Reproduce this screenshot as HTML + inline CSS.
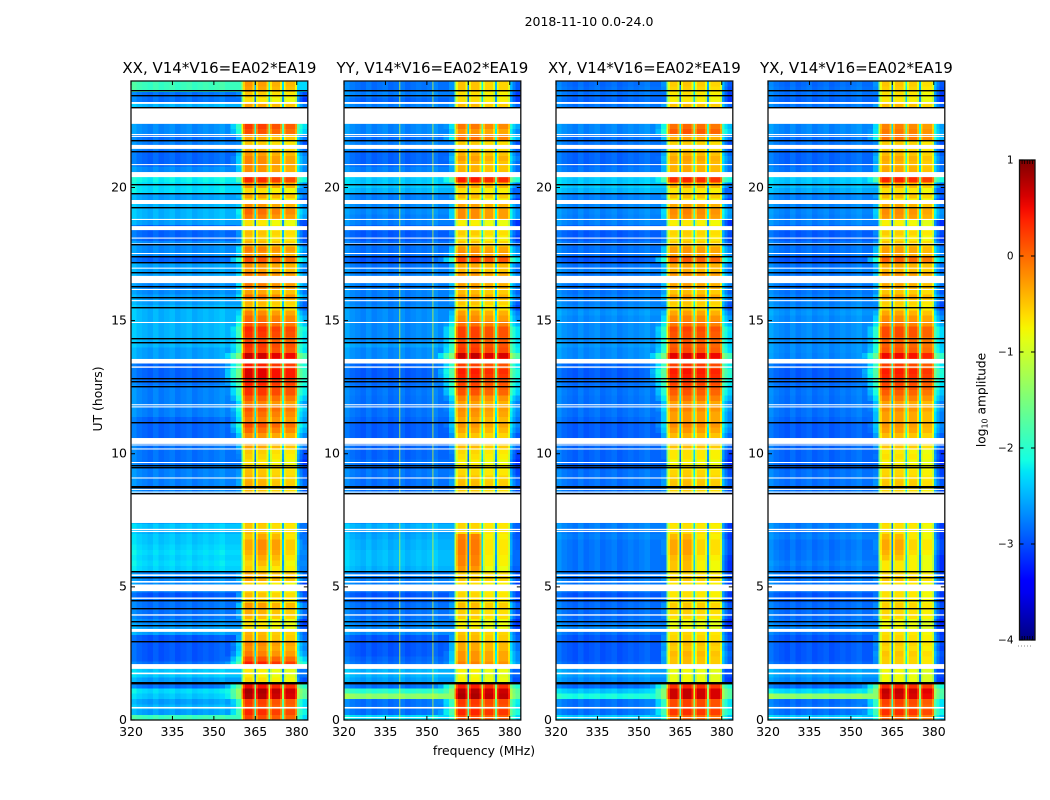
<!DOCTYPE html>
<html>
<head>
<meta charset="utf-8">
<title>2018-11-10 0.0-24.0</title>
<style>
html,body{margin:0;padding:0;background:#fff;width:1050px;height:800px;overflow:hidden}
svg{display:block}
text{font-family:"DejaVu Sans","Liberation Sans",sans-serif;fill:#000}
</style>
</head>
<body>
<svg id="figure" width="1050" height="800" viewBox="0 0 1050 800" xmlns="http://www.w3.org/2000/svg">
  <defs><linearGradient id="jetRamp" x1="0" y1="1" x2="0" y2="0"></linearGradient></defs>
  <rect x="0" y="0" width="1050" height="800" fill="#fff"/>
  <text x="589" y="26" font-size="12.5" text-anchor="middle">2018-11-10 0.0-24.0</text>
  <text x="484" y="755" font-size="12.4" text-anchor="middle">frequency (MHz)</text>
  <text x="102" y="399" font-size="12.4" text-anchor="middle" transform="rotate(-90 102 399)">UT (hours)</text>
  <text x="985.5" y="400" font-size="12.2" text-anchor="middle" transform="rotate(-90 985.5 400)">log<tspan font-size="8" dy="2">10</tspan><tspan dy="-2"> amplitude</tspan></text>
  <g id="panels"></g>
  <g id="colorbar"></g>
</svg>
<script>
// ---- data: axes ----
const panelNames = ["XX", "YY", "XY", "YX"];
const baselineLabel = "V14*V16=EA02*EA19";
const freqTicks = [320, 335, 350, 365, 380];
const hourTicks = [0, 5, 10, 15, 20];
const colorTicks = [1, 0, -1, -2, -3, -4];

// ---- data: time bins (one value per 0.2 h bin, UT 0 upward), log10 amplitude ----
const binHours = 0.2;
const bandXX = [
0.1,0.25,0.1,0.15,0.7,0.75,0.4,-0.7,-0.8,-0.8,
0.3,0.05,-0.2,-0.3,-0.25,-0.45,-0.5,-0.75,-0.75,-0.5,
-0.45,-0.35,-0.6,-0.55,-0.7,-0.7,-0.4,-0.45,-0.65,-0.7,
-0.6,-0.5,-0.45,-0.45,-0.6,-0.55,-0.6,-0.5,-0.5,-0.5,
-0.5,-0.5,-0.5,-0.55,-0.45,-0.5,-0.55,-0.6,-0.75,-0.65,
-0.6,-0.4,-0.4,-0.3,-0.1,0.05,-0.2,-0.1,0,-0.2,
0,0.2,0.2,0.3,0.5,0.5,0.3,0.5,0.6,0.15,
0.2,0.1,0.2,0.25,0,-0.1,-0.25,-0.55,-0.5,-0.15,
-0.4,-0.2,-0.2,-0.2,-0.35,-0.3,0.05,-0.3,-0.2,-0.5,
-0.6,-0.55,-0.7,-0.75,-0.2,-0.1,-0.3,-0.7,-0.4,-0.7,
-0.3,0.25,-0.2,-0.3,-0.25,-0.25,-0.35,-0.5,-0.6,-0.4,
0.05,0.15,0,0,0,-0.4,-0.75,-0.6,-0.4,-0.35];
const bandYY = [
0.1,0.3,0.15,0.2,0.75,0.7,0.35,-0.8,-0.85,-0.8,
-0.2,-0.3,-0.3,-0.4,-0.4,-0.5,-0.55,-0.8,-0.8,-0.6,
-0.6,-0.5,-0.65,-0.65,-0.7,-0.7,-0.55,-0.6,-0.8,-0.7,
-0.7,-0.65,-0.65,-0.65,-0.7,-0.65,-0.65,-0.6,-0.6,-0.6,
-0.6,-0.6,-0.6,-0.6,-0.5,-0.55,-0.65,-0.7,-0.8,-0.7,
-0.65,-0.5,-0.5,-0.55,-0.4,-0.3,-0.4,-0.3,-0.25,-0.35,
-0.2,0.05,0.1,0.15,0.3,0.35,0.15,0.5,0.65,0.2,
0.15,0.1,0.15,0.15,-0.1,-0.25,-0.35,-0.65,-0.55,-0.35,
-0.5,-0.35,-0.3,-0.3,-0.45,-0.4,0.15,-0.25,-0.3,-0.55,
-0.7,-0.6,-0.75,-0.8,-0.25,-0.25,-0.35,-0.75,-0.5,-0.7,
-0.4,0.35,-0.3,-0.45,-0.45,-0.35,-0.45,-0.6,-0.6,-0.1,
-0.3,-0.15,0,0,0,-0.5,-0.7,-0.7,-0.55,-0.55];
const bandXY = [
0,0.25,0.15,0.15,0.65,0.65,0.3,-0.85,-0.85,-0.85,
-0.5,-0.5,-0.45,-0.55,-0.5,-0.6,-0.65,-0.85,-0.85,-0.65,
-0.6,-0.55,-0.7,-0.7,-0.7,-0.7,-0.55,-0.65,-0.75,-0.75,
-0.7,-0.6,-0.6,-0.6,-0.7,-0.65,-0.7,-0.6,-0.6,-0.6,
-0.6,-0.6,-0.6,-0.6,-0.5,-0.55,-0.6,-0.7,-0.8,-0.7,
-0.7,-0.5,-0.5,-0.45,-0.3,-0.2,-0.3,-0.3,-0.2,-0.3,
-0.1,0.05,0.1,0.2,0.35,0.4,0.2,0.45,0.55,0.1,
0.05,0.05,0.1,0.15,-0.1,-0.2,-0.35,-0.6,-0.55,-0.3,
-0.5,-0.35,-0.3,-0.25,-0.4,-0.35,0.05,-0.3,-0.3,-0.55,
-0.65,-0.6,-0.7,-0.75,-0.25,-0.2,-0.35,-0.75,-0.5,-0.7,
-0.4,0.3,-0.3,-0.4,-0.4,-0.35,-0.45,-0.6,-0.6,-0.35,
0.05,-0.05,0,0,0,-0.5,-0.75,-0.7,-0.6,-0.55];
const bandYX = [
0,0.25,0.1,0.15,0.6,0.65,0.3,-0.85,-0.85,-0.85,
-0.6,-0.6,-0.55,-0.65,-0.6,-0.65,-0.7,-0.85,-0.85,-0.65,
-0.65,-0.6,-0.7,-0.7,-0.7,-0.7,-0.55,-0.65,-0.75,-0.75,
-0.75,-0.65,-0.6,-0.6,-0.7,-0.7,-0.7,-0.6,-0.6,-0.6,
-0.6,-0.6,-0.6,-0.65,-0.55,-0.6,-0.65,-0.7,-0.8,-0.7,
-0.75,-0.55,-0.55,-0.5,-0.35,-0.3,-0.35,-0.35,-0.25,-0.35,
-0.15,0,0.1,0.15,0.3,0.35,0.15,0.35,0.45,0.05,
0,0,0.1,0.1,-0.15,-0.25,-0.4,-0.65,-0.6,-0.35,
-0.55,-0.4,-0.35,-0.3,-0.45,-0.4,0,-0.35,-0.35,-0.55,
-0.7,-0.6,-0.75,-0.8,-0.3,-0.25,-0.4,-0.75,-0.5,-0.7,
-0.45,0.3,-0.3,-0.4,-0.45,-0.4,-0.5,-0.6,-0.6,-0.1,
-0.15,-0.2,0,0,0,-0.5,-0.75,-0.7,-0.6,-0.55];
const floorXX = [
-1.9,-2.6,-2.5,-2.6,-2.4,-2.3,-2.82,-2.6,-2.4,-2.4,
-2.82,-2.95,-2.95,-2.95,-2.95,-2.95,-2.6,-2.6,-2.7,-2.82,
-2.82,-2.82,-2.82,-2.95,-2.75,-2.7,-2.7,-2.7,-2.35,-2.3,
-2.35,-2.3,-2.35,-2.4,-2.4,-2.5,-2.4,-2.7,-2.7,-2.7,
-2.7,-2.7,-2.7,-2.75,-2.75,-2.75,-2.75,-2.75,-2.82,-2.82,
-2.82,-2.82,-2.82,-2.88,-2.88,-2.88,-2.88,-2.75,-2.75,-2.75,
-2.75,-2.75,-2.75,-2.82,-2.88,-2.88,-2.88,-2.6,-2.6,-2.6,
-2.5,-2.5,-2.5,-2.5,-2.5,-2.5,-2.5,-2.5,-2.6,-2.6,
-2.7,-2.7,-2.7,-2.6,-2.6,-2.6,-2.88,-2.7,-2.7,-2.7,
-2.88,-2.88,-2.88,-2.6,-2.5,-2.5,-2.5,-2.6,-2.6,-2.3,
-2.3,-2.2,-2.7,-2.7,-2.88,-2.88,-2.88,-2.75,-2.75,-2.82,
-2.7,-2.7,-2.7,-2.7,-2.7,-2.5,-2.82,-2.82,-1.9,-1.9];
const floorYY = [
-2.3,-2.82,-2.82,-2.82,-1.4,-2,-2.82,-2.6,-2.5,-2.5,
-2.82,-2.88,-2.95,-2.95,-2.95,-2.95,-2.7,-2.7,-2.75,-2.82,
-2.82,-2.82,-2.88,-2.95,-2.82,-2.75,-2.75,-2.75,-2.5,-2.45,
-2.45,-2.45,-2.5,-2.5,-2.55,-2.6,-2.5,-2.75,-2.75,-2.75,
-2.75,-2.75,-2.75,-2.82,-2.82,-2.82,-2.8,-2.82,-2.82,-2.88,
-2.88,-2.88,-2.88,-2.92,-2.92,-2.92,-2.88,-2.82,-2.82,-2.82,
-2.82,-2.8,-2.82,-2.85,-2.92,-2.92,-2.88,-2.7,-2.7,-2.7,
-2.6,-2.7,-2.7,-2.7,-2.7,-2.7,-2.7,-2.7,-2.75,-2.75,
-2.75,-2.75,-2.75,-2.75,-2.75,-2.82,-2.95,-2.82,-2.82,-2.82,
-2.92,-2.92,-2.88,-2.75,-2.75,-2.7,-2.7,-2.75,-2.75,-2.5,
-2.4,-2.4,-2.75,-2.75,-2.88,-2.88,-2.88,-2.75,-2.75,-2.82,
-2.72,-2.72,-2.7,-2.7,-2.7,-2.75,-2.88,-2.75,-2.82,-2.82];
const floorXY = [
-2.4,-2.82,-2.82,-2.82,-2.1,-2.4,-2.85,-2.7,-2.6,-2.6,
-2.88,-2.95,-2.95,-2.95,-2.95,-2.95,-2.82,-2.7,-2.8,-2.85,
-2.85,-2.85,-2.88,-2.95,-2.82,-2.8,-2.8,-2.8,-2.8,-2.8,
-2.8,-2.8,-2.8,-2.8,-2.75,-2.8,-2.75,-2.82,-2.82,-2.82,
-2.82,-2.82,-2.82,-2.82,-2.82,-2.82,-2.82,-2.88,-2.88,-2.88,
-2.88,-2.88,-2.88,-2.92,-2.92,-2.92,-2.88,-2.82,-2.82,-2.82,
-2.82,-2.8,-2.82,-2.85,-2.92,-2.92,-2.88,-2.7,-2.7,-2.7,
-2.65,-2.7,-2.7,-2.7,-2.7,-2.7,-2.65,-2.7,-2.75,-2.75,
-2.8,-2.8,-2.75,-2.8,-2.75,-2.82,-2.95,-2.82,-2.82,-2.82,
-2.92,-2.92,-2.88,-2.75,-2.75,-2.72,-2.72,-2.75,-2.75,-2.5,
-2.4,-2.4,-2.8,-2.8,-2.88,-2.88,-2.88,-2.8,-2.8,-2.82,
-2.72,-2.72,-2.7,-2.7,-2.7,-2.8,-2.88,-2.82,-2.82,-2.85];
const floorYX = [
-2.4,-2.82,-2.82,-2.85,-1.4,-2.3,-2.85,-2.7,-2.6,-2.6,
-2.88,-2.95,-2.95,-2.95,-2.95,-2.95,-2.82,-2.72,-2.8,-2.85,
-2.85,-2.85,-2.88,-2.95,-2.82,-2.8,-2.8,-2.8,-2.8,-2.75,
-2.8,-2.8,-2.82,-2.82,-2.75,-2.8,-2.75,-2.82,-2.82,-2.82,
-2.82,-2.82,-2.82,-2.82,-2.82,-2.82,-2.82,-2.88,-2.88,-2.88,
-2.88,-2.88,-2.88,-2.92,-2.92,-2.92,-2.88,-2.82,-2.82,-2.82,
-2.82,-2.8,-2.82,-2.85,-2.92,-2.92,-2.88,-2.72,-2.72,-2.7,
-2.7,-2.7,-2.7,-2.7,-2.7,-2.7,-2.65,-2.7,-2.75,-2.75,
-2.8,-2.8,-2.75,-2.8,-2.75,-2.82,-2.95,-2.82,-2.82,-2.82,
-2.92,-2.92,-2.88,-2.75,-2.75,-2.72,-2.72,-2.75,-2.75,-2.55,
-2.45,-2.4,-2.8,-2.8,-2.88,-2.88,-2.88,-2.8,-2.8,-2.82,
-2.72,-2.72,-2.7,-2.7,-2.7,-2.8,-2.88,-2.82,-2.82,-2.85];

// ---- data: frequency channels (MHz left edge, kind, gain in dex) ----
const channelStarts = [320,322,324,326,328,330,332,334,336,338,340,342,344,346,348,350,352,354,356,358,360,360.5,361.2,364,364.7,365.3,366,369,369.7,370.3,371,374,374.7,375.3,376,379.3,380,381,382,384];
const channelKinds = ["floor","floor","floor","floor","floor","floor","floor","floor","floor","floor","floor","floor","floor","floor","floor","floor","floor","knee","knee","knee","edge","sb0","sb0","sb0","gap","sb1","sb1","sb1","gap","sb2","sb2","sb2","gap","sb3","sb3","sb3","tail","tail","tail"];
const channelGains = [0.15,0.05,0,-0.05,0.05,-0.05,0,0.05,-0.05,0,0.05,-0.05,0,0.05,0,0.05,0.1,-2.9,-2.5,-2.1,-0.9,-0.3,0.02,-0.3,-2.1,-0.3,0.02,-0.3,-1.6,-0.3,0.02,-0.3,-1.9,-0.3,0.02,-0.3,-1.9,-2.2,-2.4];
const subbandTiltXX = [0.1, 0.05, -0.05, -0.1];
const subbandTiltYY = [0.05, 0.05, -0.05, -0.05];
const subbandTiltXY = [0, 0.05, 0, -0.05];
const subbandTiltYX = [0.05, 0.05, 0, -0.1];

// ---- data: localized bright patches [panel, hourFrom, hourTo, mhzFrom, mhzTo, dex] ----
const patchPanels = [1, 0, 2, 3];
const patchHourFrom = [5.6, 5.8, 5.7, 6];
const patchHourTo = [7, 6.9, 7, 7];
const patchMhzFrom = [360, 365, 360, 360];
const patchMhzTo = [370, 375, 370, 370];
const patchDex = [0.5, 0.2, 0.25, 0.2];

// ---- data: flagged time ranges (hours) ----
const gapFrom = [0.43,1.72,1.92,3.31,3.92,4.55,4.84,5.16,5.41,7.06,7.13,7.4,8.54,8.64,9.07,9.65,10.16,10.31,10.37,11.74,11.82,13.23,13.39,14.91,15.73,16.15,16.41,16.95,17.5,17.86,18.08,18.4,18.78,19.38,20.39,20.84,21.45,21.9,21.97,22.39,23.14];
const gapTo = [0.49,1.78,2.1,3.42,3.97,4.6,5.09,5.22,5.47,7.1,7.18,8.49,8.58,8.68,9.11,9.69,10.2,10.35,10.59,11.78,11.86,13.28,13.56,14.95,15.77,16.19,16.68,16.99,17.54,17.9,18.12,18.55,18.82,19.53,20.58,20.88,21.6,21.94,22.01,23.02,23.21];
const blackLineHours = [1.4,1.44,2.96,3.57,3.73,4.22,4.51,5.37,5.61,8.51,8.76,8.8,9.51,9.58,11.18,12.53,12.72,12.85,14.19,14.35,15.52,15.89,16.3,16.81,17.21,17.44,17.86,19.25,19.8,20.15,21.37,21.78,23.04,23.49,23.66];
const bottomLineHour = [0.07, 0.11];

// ---- data: narrow interference channels in YY (MHz) ----
const spurFreqsYY = [340, 352];

// ---- layout (not data) ----
const NS = "http://www.w3.org/2000/svg";
const panelLeft = [131, 344, 556, 768];
const panelWidth = 176.8;
const plotTop = 81, plotBottom = 720;
const freqMin = 320, freqMax = 384, hourMin = 0, hourMax = 24;
const cbarLeft = 1019.5, cbarRight = 1035, cbarTop = 160, cbarBottom = 640, colorMin = -4, colorMax = 1;

const bandByPanel = [bandXX, bandYY, bandXY, bandYX];
const floorByPanel = [floorXX, floorYY, floorXY, floorYX];
const tiltByPanel = [subbandTiltXX, subbandTiltYY, subbandTiltXY, subbandTiltYX];

function xScale(p, f) { return panelLeft[p] + (f - freqMin) / (freqMax - freqMin) * panelWidth; }
function yScale(h) { return plotBottom - (h - hourMin) / (hourMax - hourMin) * (plotBottom - plotTop); }
function cbarY(v) { return cbarBottom - (v - colorMin) / (colorMax - colorMin) * (cbarBottom - cbarTop); }
function ramp(t, pts) {
  for (let i = 1; i < pts.length; i++) {
    if (t <= pts[i][0]) {
      const a = pts[i - 1], b = pts[i];
      return a[1] + (b[1] - a[1]) * (t - a[0]) / (b[0] - a[0]);
    }
  }
  return pts[pts.length - 1][1];
}
function jet(v) {
  const t = Math.max(0, Math.min(1, (v - colorMin) / (colorMax - colorMin)));
  const r = ramp(t, [[0, 0], [0.35, 0], [0.66, 1], [0.89, 1], [1, 0.5]]);
  const g = ramp(t, [[0, 0], [0.125, 0], [0.375, 1], [0.64, 1], [0.91, 0], [1, 0]]);
  const b = ramp(t, [[0, 0.5], [0.11, 1], [0.34, 1], [0.65, 0], [1, 0]]);
  return "rgb(" + Math.round(r * 255) + "," + Math.round(g * 255) + "," + Math.round(b * 255) + ")";
}
function cellValue(p, bin, c) {
  const band = bandByPanel[p][bin], floor = floorByPanel[p][bin];
  const kind = channelKinds[c], gain = channelGains[c];
  if (kind === "floor") return floor + gain;
  if (kind === "knee") return Math.max(floor, band + gain);
  if (kind === "tail") return Math.max(floor - 0.4, band + gain);
  let v = band + gain;
  if (kind.startsWith("sb")) v += tiltByPanel[p][+kind.charAt(2)];
  const hour = bin * binHours + binHours / 2, mhz = (channelStarts[c] + channelStarts[c + 1]) / 2;
  for (let i = 0; i < patchPanels.length; i++) {
    if (patchPanels[i] === p && hour >= patchHourFrom[i] && hour <= patchHourTo[i] && mhz >= patchMhzFrom[i] && mhz <= patchMhzTo[i] && kind !== "gap") v += patchDex[i];
  }
  return v;
}
function svgEl(tag, attrs, parent) {
  const el = document.createElementNS(NS, tag);
  for (const k in attrs) el.setAttribute(k, attrs[k]);
  parent.appendChild(el);
  return el;
}

const panelsRoot = document.getElementById("panels");
panelNames.forEach(function (name, p) {
  const g = svgEl("g", {}, panelsRoot);
  
  
  const pr = xScale(p, freqMax), pl = xScale(p, freqMin);

  // heatmap cells
  const heat = svgEl("g", { "shape-rendering": "crispEdges" }, g);
  
  
  const bins = bandByPanel[p].length;
  for (let b = 0; b < bins; b++) {
    const yTop = yScale((b + 1) * binHours), yBot = yScale(b * binHours);
    for (let c = 0; c < channelKinds.length; c++) {
      const x0 = xScale(p, channelStarts[c]), x1 = xScale(p, channelStarts[c + 1]);
      const cell = svgEl("rect", { x: x0.toFixed(2), y: yTop.toFixed(2), width: (x1 - x0 + 0.3).toFixed(2), height: (yBot - yTop + 0.3).toFixed(2), fill: jet(cellValue(p, b, c)) }, heat);
      
      
    }
  }

  // interference channels
  if (name === "YY") {
    spurFreqsYY.forEach(function (f) {
      const spur = svgEl("rect", { x: xScale(p, f).toFixed(2), y: plotTop, width: 1, height: plotBottom - plotTop, fill: jet(-0.95), opacity: 0.75 }, g);
      
      
    });
  }

  // flagged (blank) time ranges
  gapFrom.forEach(function (from, i) {
    const yA = yScale(gapTo[i]), yB = yScale(from);
    const gap = svgEl("rect", { x: pl.toFixed(2), y: yA.toFixed(2), width: (pr - pl).toFixed(2), height: Math.max(1, yB - yA).toFixed(2), fill: "#fff" }, g);
    
    
  });
  if (p > 0) {
    const yA = yScale(bottomLineHour[1]), yB = yScale(bottomLineHour[0]);
    const line = svgEl("rect", { x: pl.toFixed(2), y: yA.toFixed(2), width: (pr - pl).toFixed(2), height: (yB - yA).toFixed(2), fill: "#fff" }, g);
    
    
  }
  blackLineHours.forEach(function (h) {
    const line = svgEl("rect", { x: pl.toFixed(2), y: Math.round(yScale(h)), width: (pr - pl).toFixed(2), height: 1.4, fill: "#000" }, g);
    
    
  });

  // frame
  const frame = svgEl("rect", { x: pl.toFixed(2), y: plotTop, width: (pr - pl).toFixed(2), height: plotBottom - plotTop, fill: "none", stroke: "#111", "stroke-width": 1.3 }, g);
  
  

  // ticks and labels
  freqTicks.forEach(function (f) {
    const x = xScale(p, f);
    const tb = svgEl("line", { x1: x, x2: x, y1: plotBottom, y2: plotBottom - 4, stroke: "#000", "stroke-width": 1 }, g);
    
    
    const tt = svgEl("line", { x1: x, x2: x, y1: plotTop, y2: plotTop + 4, stroke: "#000", "stroke-width": 1 }, g);
    
    
    const lab = svgEl("text", { x: x, y: plotBottom + 16, "font-size": 12.5, "text-anchor": "middle" }, g);
    
    
    lab.textContent = f;
  });
  hourTicks.forEach(function (h) {
    const y = yScale(h);
    const tl = svgEl("line", { x1: pl, x2: pl + 4, y1: y, y2: y, stroke: "#000", "stroke-width": 1 }, g);
    
    
    const tr = svgEl("line", { x1: pr, x2: pr - 4, y1: y, y2: y, stroke: "#000", "stroke-width": 1 }, g);
    
    
    const lab = svgEl("text", { x: pl - 4, y: y + 3.8, "font-size": 12.5, "text-anchor": "end" }, g);
    
    
    lab.textContent = h;
  });

  const title = svgEl("text", { x: (pl + pr) / 2, y: 73, "font-size": 15, "text-anchor": "middle" }, g);
  
  
  title.textContent = name + ", " + baselineLabel;
});

// colorbar
const grad = document.getElementById("jetRamp");
for (let i = 0; i <= 40; i++) {
  const v = colorMin + (colorMax - colorMin) * i / 40;
  svgEl("stop", { offset: (i / 40), "stop-color": jet(v) }, grad);
}
const cbarRoot = document.getElementById("colorbar");
const cbarFill = svgEl("rect", { x: cbarLeft, y: cbarTop, width: cbarRight - cbarLeft, height: cbarBottom - cbarTop, fill: "url(#jetRamp)", stroke: "#111", "stroke-width": 1.3 }, cbarRoot);


colorTicks.forEach(function (v) {
  const y = cbarY(v);
  const left = svgEl("line", { x1: cbarLeft, x2: cbarLeft + 4, y1: y, y2: y, stroke: "#000" }, cbarRoot);
  
  
  const right = svgEl("line", { x1: cbarRight, x2: cbarRight - 4, y1: y, y2: y, stroke: "#000" }, cbarRoot);
  
  
  const lab = svgEl("text", { x: cbarLeft - 6, y: y + 3.5, "font-size": 10.5, "text-anchor": "end" }, cbarRoot);
  
  
  lab.textContent = v < 0 ? "\u2212" + Math.abs(v) : String(v);
});
for (let i = 1; i < 6; i++) {
  const x = cbarLeft + i * (cbarRight - cbarLeft) / 6;
  [[cbarTop, cbarTop + 4], [cbarBottom, cbarBottom - 4]].forEach(function (s) {
    const minor = svgEl("line", { x1: x, x2: x, y1: s[0], y2: s[1], stroke: "#000", "stroke-width": 0.8 }, cbarRoot);
    
    
  });
  const dot = svgEl("rect", { x: 1015 + i * 3, y: 645.5, width: 1, height: 1, fill: "#888" }, cbarRoot);
  
  
}
</script>
</body>
</html>
